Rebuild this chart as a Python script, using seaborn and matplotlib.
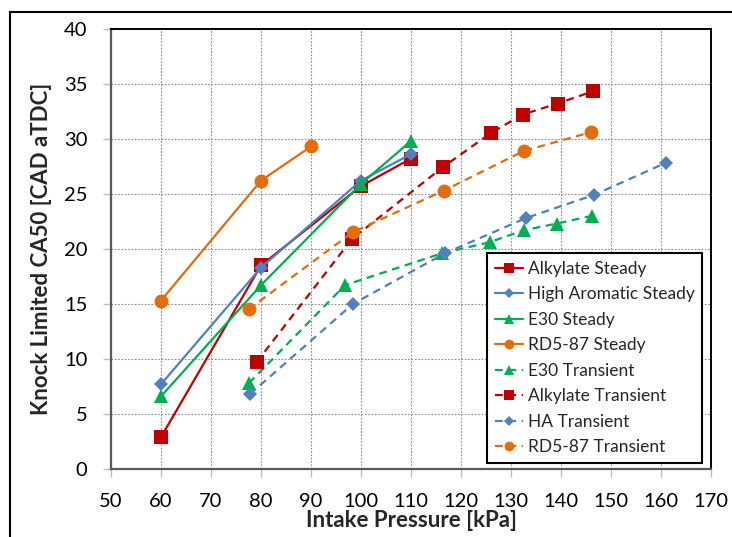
import matplotlib.pyplot as plt
import matplotlib.patches as patches
import numpy as np
import pandas as pd
import seaborn as sns

# knock limited CA50 vs intake pressure, steady and transient runs
# values

alky_steady_p = [60, 80, 100, 110]
alky_steady_ca = [2.9, 18.5, 25.7, 28.2]

ha_steady_p = [60, 80, 100, 110]
ha_steady_ca = [7.7, 18.3, 26.2, 28.6]

e30_steady_p = [60, 80, 100, 110]
e30_steady_ca = [6.6, 16.7, 25.9, 29.8]

rd_steady_p = [60, 80, 90]
rd_steady_ca = [15.3, 26.2, 29.3]

e30_trans_p = [77.6, 96.8, 116.2, 125.7, 132.6, 139.2, 146.2]
e30_trans_ca = [7.8, 16.7, 19.6, 20.6, 21.7, 22.3, 23.0]

alky_trans_p = [79.1, 98.2, 116.3, 125.9, 132.3, 139.3, 146.3]
alky_trans_ca = [9.7, 20.9, 27.4, 30.5, 32.2, 33.2, 34.3]

ha_trans_p = [77.8, 98.4, 116.8, 133.0, 146.6, 160.9]
ha_trans_ca = [6.8, 15.0, 19.6, 22.8, 24.9, 27.8]

rd_trans_p = [77.5, 98.3, 116.6, 132.6, 146.0]
rd_trans_ca = [14.5, 21.5, 25.3, 28.9, 30.6]

RED = '#C00000'
BLUE = '#4F81BD'
GREEN = '#00B050'
ORANGE = '#E46C0A'

# (label, x, y, colour, marker, marker size, dashed)
series = [
    ('Alkylate Steady', alky_steady_p, alky_steady_ca, RED, 's', 9.5, False),
    ('High Aromatic Steady', ha_steady_p, ha_steady_ca, BLUE, 'D', 7.5, False),
    ('E30 Steady', e30_steady_p, e30_steady_ca, GREEN, '^', 10, False),
    ('RD5-87 Steady', rd_steady_p, rd_steady_ca, ORANGE, 'o', 10, False),
    ('E30 Transient', e30_trans_p, e30_trans_ca, GREEN, '^', 10, True),
    ('Alkylate Transient', alky_trans_p, alky_trans_ca, RED, 's', 9.5, True),
    ('HA Transient', ha_trans_p, ha_trans_ca, BLUE, 'D', 7.5, True),
    ('RD5-87 Transient', rd_trans_p, rd_trans_ca, ORANGE, 'o', 10, True),
]

sns.set_style('ticks')
plt.rcParams['font.family'] = ['Lato', 'DejaVu Sans']

fig = plt.figure(figsize=(7.32, 5.37), dpi=100)
ax = fig.add_axes([111/732, 68/537, 600/732, 440.3/537])

for label, xs, ys, col, mk, ms, dashed in series:
    df = pd.DataFrame({'p': xs, 'ca': ys})
    sns.lineplot(data=df, x='p', y='ca', ax=ax, color=col, marker=mk,
                 markersize=ms, markeredgewidth=0, linewidth=1.6,
                 linestyle=(0, (3.5, 2.5)) if dashed else '-',
                 label=label, errorbar=None, sort=False)

ax.set_xlim(50, 170)
ax.set_ylim(0, 40)
ax.set_xticks(np.arange(50, 171, 10))
ax.set_yticks(np.arange(0, 41, 5))
ax.grid(True, color='#8c8c8c', linestyle=(0, (1.5, 1.5)), linewidth=0.8)
ax.set_axisbelow(True)
ax.tick_params(axis='both', length=6, width=1, color='#bfbfbf', pad=11,
               labelsize=14.5, labelcolor='black')

for side in ['left', 'bottom']:
    ax.spines[side].set_color('#595959')
    ax.spines[side].set_linewidth(1.6)
for side in ['top', 'right']:
    ax.spines[side].set_color('black')
    ax.spines[side].set_linewidth(1.4)

ax.set_xlabel('Intake Pressure [kPa]', fontsize=16, fontweight='bold')
ax.set_ylabel('Knock Limited CA50 [CAD aTDC]', fontsize=16, fontweight='bold')
ax.xaxis.set_label_coords(0.5, -0.092)
ax.yaxis.set_label_coords(-0.098, 0.5)

leg = ax.legend(loc='lower left', bbox_to_anchor=(0.627, 0.013, 0.358, 0.467),
                mode='expand', fontsize=12.5, frameon=True, fancybox=False,
                framealpha=1, edgecolor='black', borderaxespad=0,
                handlelength=1.6, handletextpad=0.3, markerscale=0.7,
                labelspacing=0.55, borderpad=0.45)
leg.get_frame().set_linewidth(1.5)

# outer chart frame, cut at the right and bottom like the reference
fig.patches.append(patches.Rectangle((10/732, -0.2), 1.2, 1.2 - 12/537,
                                     transform=fig.transFigure, fill=False,
                                     edgecolor='black', linewidth=1.5))

fig.savefig('out.png', dpi=100)
